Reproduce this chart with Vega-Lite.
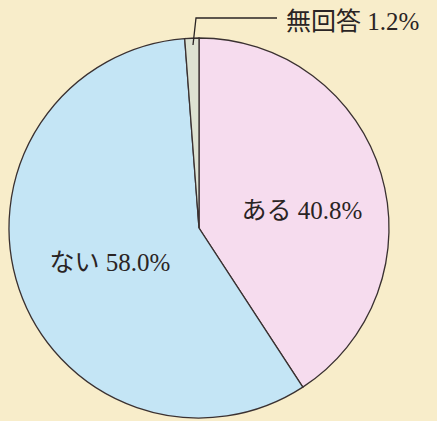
{
  "$schema": "https://vega.github.io/schema/vega-lite/v6.json",
  "width": 398,
  "height": 456,
  "padding": {"left": 0, "top": 0, "right": 39, "bottom": 0},
  "background": "#f8edca",
  "config": {"view": {"stroke": null}},
  "datasets": {
    "slices": [
      {"label": "ある", "pct": 40.8, "ord": 1},
      {"label": "ない", "pct": 58.0, "ord": 2},
      {"label": "無回答", "pct": 1.2, "ord": 3}
    ],
    "labels": [
      {"text": "ある 40.8%", "x": 103, "y": 17},
      {"text": "ない 58.0%", "x": -89, "y": -35}
    ],
    "outer": [
      {"text": "無回答 1.2%", "x": 87, "y": 206}
    ],
    "leader": [
      {"x": -6, "y": 183, "i": 1},
      {"x": -3, "y": 210, "i": 2},
      {"x": 78, "y": 210, "i": 3}
    ]
  },
  "layer": [
    {
      "data": {"name": "slices"},
      "mark": {"type": "arc", "radius": 190, "stroke": "#3a3131", "strokeWidth": 1.3},
      "encoding": {
        "theta": {"field": "pct", "type": "quantitative", "stack": true},
        "order": {"field": "ord", "type": "quantitative"},
        "color": {
          "field": "label", "type": "nominal",
          "scale": {"domain": ["ある", "ない", "無回答"], "range": ["#f6dcee", "#c4e5f5", "#dde2d2"]},
          "legend": null
        }
      }
    },
    {
      "data": {"name": "leader"},
      "mark": {"type": "line", "color": "#2a2424", "strokeWidth": 1.3},
      "encoding": {
        "x": {"field": "x", "type": "quantitative", "scale": {"domain": [-199, 199], "nice": false, "zero": false}, "axis": null},
        "y": {"field": "y", "type": "quantitative", "scale": {"domain": [-228, 228], "nice": false, "zero": false}, "axis": null},
        "order": {"field": "i", "type": "quantitative"}
      }
    },
    {
      "data": {"name": "labels"},
      "mark": {"type": "text", "fontSize": 25, "font": "Liberation Serif, Noto Sans CJK JP", "color": "#2a2424", "baseline": "middle", "align": "center"},
      "encoding": {
        "x": {"field": "x", "type": "quantitative", "scale": {"domain": [-199, 199], "nice": false, "zero": false}, "axis": null},
        "y": {"field": "y", "type": "quantitative", "scale": {"domain": [-228, 228], "nice": false, "zero": false}, "axis": null},
        "text": {"field": "text"}
      }
    },
    {
      "data": {"name": "outer"},
      "mark": {"type": "text", "fontSize": 25, "font": "Liberation Serif, Noto Sans CJK JP", "color": "#2a2424", "baseline": "middle", "align": "left"},
      "encoding": {
        "x": {"field": "x", "type": "quantitative", "scale": {"domain": [-199, 199], "nice": false, "zero": false}, "axis": null},
        "y": {"field": "y", "type": "quantitative", "scale": {"domain": [-228, 228], "nice": false, "zero": false}, "axis": null},
        "text": {"field": "text"}
      }
    }
  ]
}
